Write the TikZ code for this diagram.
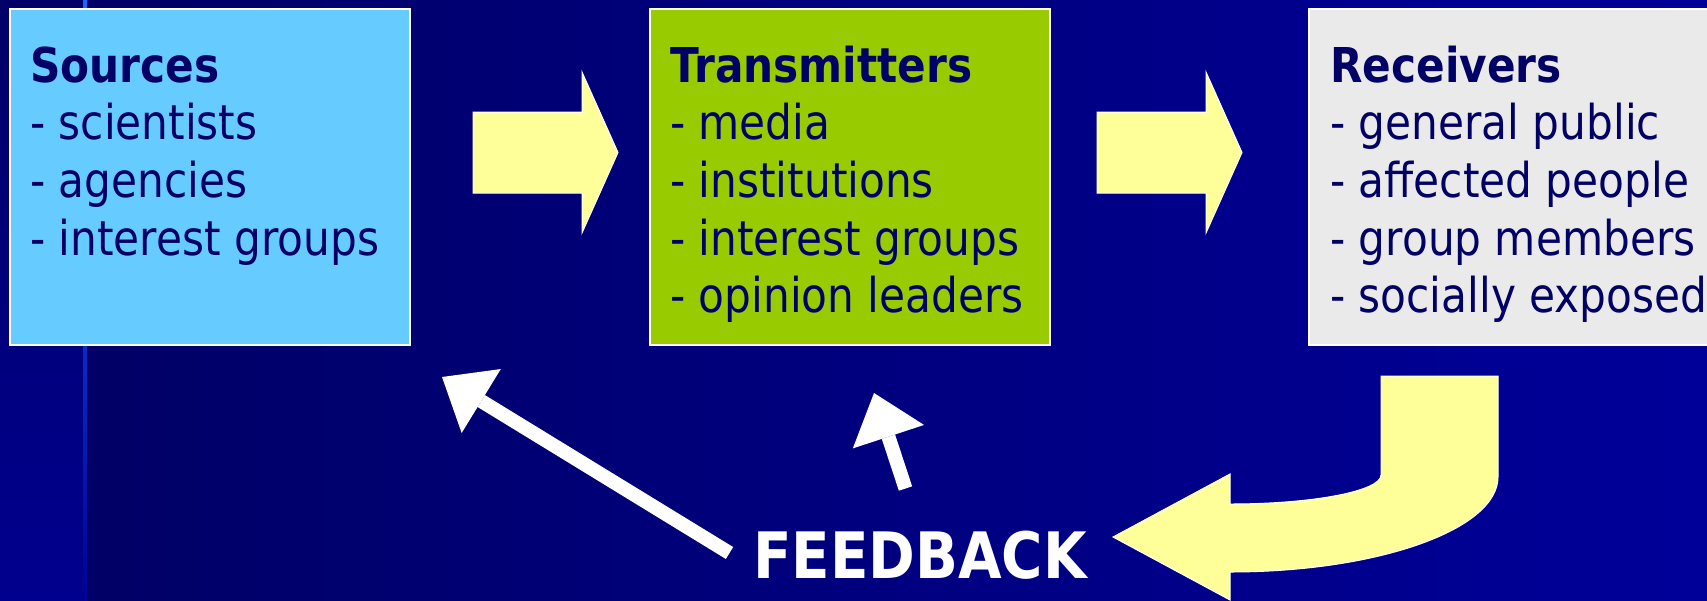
\documentclass[tikz,border=0pt]{standalone}
\usepackage{fontspec}
\setmainfont{DejaVu Sans}[FakeStretch=0.88]
\usetikzlibrary{arrows.meta}

\definecolor{navytext}{HTML}{000066}
\definecolor{srcblue}{HTML}{66CCFF}
\definecolor{trgreen}{HTML}{99CC00}
\definecolor{rcgray}{HTML}{EAEAEA}
\definecolor{arrowyellow}{HTML}{FFFF99}
\definecolor{bgleft}{HTML}{000066}
\definecolor{bgright}{HTML}{000099}
\definecolor{stripTop}{HTML}{000068}
\definecolor{stripBot}{HTML}{00008E}
\definecolor{lineTop}{HTML}{1A66FF}
\definecolor{lineMid}{HTML}{0000AA}
\definecolor{lineBot}{HTML}{000099}

\begin{document}
\begin{tikzpicture}[x=1pt,y=-1pt,
  panel/.style={draw=white, line width=2pt, anchor=north west,
    inner sep=0pt, outer sep=0pt},
  itemtext/.style={anchor=base west, inner sep=0pt, text=navytext,
    font=\fontsize{48}{57.7}\selectfont},
  blockarrow/.style={fill=arrowyellow, draw=white, line width=1pt,
    line join=miter},
  fbarrow/.style={draw=white, line width=14pt,
    -{Triangle[length=46pt,width=75pt,line width=0pt]}},
]
\useasboundingbox (0,0) rectangle (1707,600);
\clip (0,0) rectangle (1707,600);

% background: dark strip on the left, main field shaded left to right
\shade[left color=bgleft, right color=bgright] (85,0) rectangle (1707,600);
\shade[top color=stripTop, bottom color=stripBot] (0,0) rectangle (83,600);
\shade[top color=lineTop, middle color=lineMid, bottom color=lineBot]
  (83,0) rectangle (87,600);

% the three panels
\node[panel, fill=srcblue, minimum width=400pt, minimum height=336pt]
  (sources) at (10,9) {};
\node[panel, fill=trgreen, minimum width=400pt, minimum height=336pt]
  (transmitters) at (650,9) {};
\node[panel, fill=rcgray, minimum width=420pt, minimum height=336pt]
  (receivers) at (1309,9) {};

% panel contents
\node[itemtext] (sourcestext) at (30,82)
  {\parbox[t]{380pt}{\textbf{Sources}\\- scientists\\- agencies\\- interest groups}};
\node[itemtext] (transmitterstext) at (670,82)
  {\parbox[t]{380pt}{\textbf{Transmitters}\\- media\\- institutions\\- interest groups\\- opinion leaders}};
\node[itemtext] (receiverstext) at (1330,82)
  {\parbox[t]{380pt}{\textbf{Receivers}\\- general public\\- affected people\\- group members\\- socially exposed}};

% block arrows between the panels
\draw[blockarrow] (473,112) -- (582,112) -- (582,72) -- (618,152.5)
  -- (582,233) -- (582,193) -- (473,193) -- cycle;
\draw[blockarrow] (1097,112) -- (1206,112) -- (1206,72) -- (1242,152.5)
  -- (1206,233) -- (1206,193) -- (1097,193) -- cycle;

% bent return arrow below the receivers
\draw[blockarrow] (1381,376) -- (1498,376) -- (1498,477)
  .. controls (1498,529.5) and (1378,572) .. (1230,572)
  -- (1230,600) -- (1113,537) -- (1230,474) -- (1230,504)
  .. controls (1313.4,504) and (1381,491) .. (1381,475) -- cycle;

% feedback label and its arrows
\node[anchor=base west, inner sep=0pt, text=white,
  font=\fontsize{64}{70}\selectfont\bfseries] (feedback) at (753,578) {FEEDBACK};

\coordinate (fbtailA) at (729.5,553);
\coordinate (fbtipA) at (442,377);
\coordinate (fbtailB) at (905.5,488.5);
\coordinate (fbtipB) at (874,393);
\draw[fbarrow] (fbtailA) -- (fbtipA);
\draw[fbarrow] (fbtailB) -- (fbtipB);
\end{tikzpicture}
\end{document}
